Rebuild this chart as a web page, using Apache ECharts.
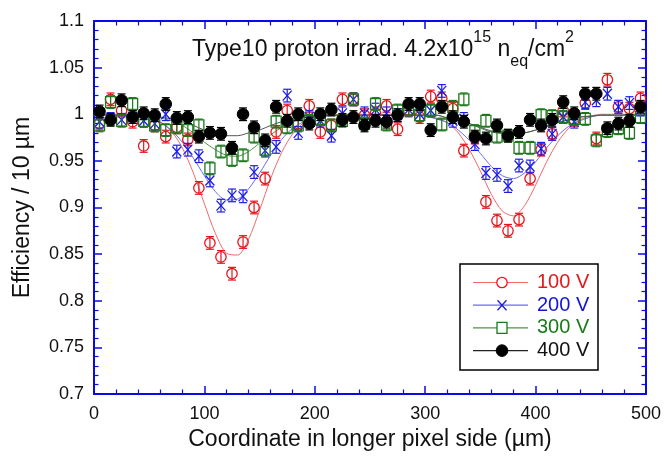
<!DOCTYPE html>
<html>
<head>
<meta charset="utf-8">
<title>Efficiency vs coordinate</title>
<script src="https://cdn.jsdelivr.net/npm/echarts/dist/echarts.min.js"></script>
<style>
  html, body { margin: 0; padding: 0; background: #fff; }
  #chart { width: 664px; height: 457px; }
</style>
</head>
<body>
<div id="chart"></div>
<script>
// measured points, one every 10 um
const xPos = [5, 15, 25, 35, 45, 55, 65, 75, 85, 95, 105, 115, 125, 135, 145, 155, 165, 175, 185, 195,
  205, 215, 225, 235, 245, 255, 265, 275, 285, 295, 305, 315, 325, 335, 345, 355, 365, 375, 385, 395,
  405, 415, 425, 435, 445, 455, 465, 475, 485, 495];

const eff100 = [0.990, 1.016, 1.004, 0.992, 0.966, 0.988, 0.976, 0.986, 0.973, 0.921,
  0.862, 0.847, 0.829, 0.863, 0.900, 0.931, 0.981, 1.004, 0.990, 1.009,
  0.981, 0.988, 1.016, 1.016, 0.999, 1.001, 1.009, 0.984, 1.004, 0.997,
  1.019, 1.017, 1.006, 0.961, 0.975, 0.906, 0.886, 0.875, 0.887, 0.931,
  0.962, 0.979, 1.004, 0.994, 1.012, 0.974, 1.037, 1.008, 1.006, 1.017];

const eff200 = [0.992, 0.995, 0.994, 0.997, 0.993, 0.990, 1.000, 0.960, 0.962, 0.955,
  0.929, 0.902, 0.913, 0.912, 0.938, 0.961, 0.965, 1.020, 0.980, 0.997,
  0.993, 0.977, 1.001, 1.016, 1.001, 1.005, 1.001, 0.999, 1.005, 1.000,
  1.004, 1.025, 0.993, 0.995, 0.968, 0.937, 0.935, 0.923, 0.945, 0.944,
  0.963, 0.979, 0.997, 0.992, 1.013, 1.015, 1.022, 1.008, 1.012, 1.005];

const eff300 = [0.988, 1.013, 0.993, 1.011, 0.993, 0.988, 0.983, 0.986, 0.983, 0.988,
  0.942, 0.960, 0.951, 0.956, 0.976, 0.962, 0.992, 0.986, 0.988, 0.993,
  0.995, 0.988, 0.993, 1.016, 0.990, 1.011, 0.989, 1.004, 1.005, 0.999,
  1.004, 0.989, 1.008, 1.016, 0.982, 0.993, 0.976, 0.977, 0.964, 0.964,
  0.999, 0.998, 0.997, 0.995, 0.995, 0.972, 0.982, 0.985, 0.980, 0.997];

const eff400 = [1.003, 0.994, 1.015, 0.997, 1.001, 0.999, 1.011, 0.996, 0.997, 0.976,
  0.980, 0.979, 0.964, 1.000, 0.986, 0.972, 1.008, 0.993, 1.000, 0.990,
  1.000, 1.005, 0.994, 0.997, 0.988, 0.993, 0.992, 0.999, 1.011, 1.011,
  0.983, 1.008, 0.997, 0.992, 0.976, 0.974, 0.988, 0.977, 0.981, 0.994,
  0.988, 0.994, 1.013, 1.001, 1.022, 1.022, 0.985, 0.990, 0.993, 1.008];

const errBar = 0.0068;

// fitted curves
const fitX = [0, 10, 20, 30, 40, 50, 60, 70, 80, 90, 100, 110, 120, 130, 140, 150, 160, 170, 180, 190,
  200, 210, 220, 230, 240, 250, 260, 270, 280, 290, 300, 310, 320, 330, 340, 350, 360, 370, 380, 390,
  400, 410, 420, 430, 440, 450, 460, 470, 480, 490, 500];

const fit100 = [1.000, 1.000, 1.000, 1.000, 0.999, 0.997, 0.992, 0.982, 0.964, 0.937,
  0.904, 0.872, 0.851, 0.849, 0.866, 0.897, 0.931, 0.959, 0.979, 0.991,
  0.997, 0.999, 1.000, 1.000, 1.000, 1.000, 1.000, 1.000, 1.000, 1.000,
  0.999, 0.996, 0.991, 0.980, 0.962, 0.939, 0.914, 0.896, 0.891, 0.902,
  0.924, 0.949, 0.970, 0.985, 0.994, 0.998, 1.000, 1.000, 1.000, 1.000, 1.000];

const fit200 = [0.999, 0.999, 0.999, 0.999, 0.998, 0.995, 0.991, 0.983, 0.970, 0.953,
  0.934, 0.917, 0.908, 0.909, 0.920, 0.937, 0.956, 0.973, 0.985, 0.992,
  0.996, 0.998, 0.999, 0.999, 0.999, 0.999, 0.999, 0.999, 0.999, 0.999,
  0.998, 0.995, 0.991, 0.983, 0.972, 0.958, 0.944, 0.934, 0.931, 0.937,
  0.949, 0.964, 0.977, 0.987, 0.993, 0.997, 0.999, 0.999, 0.999, 0.999, 0.999];

const fit300 = [0.999, 0.999, 0.999, 0.999, 0.999, 0.999, 0.996, 0.993, 0.988, 0.980,
  0.970, 0.962, 0.956, 0.955, 0.960, 0.969, 0.978, 0.986, 0.992, 0.996,
  0.998, 0.999, 0.999, 0.999, 0.999, 0.999, 0.999, 0.999, 0.999, 0.999,
  0.999, 0.999, 0.996, 0.993, 0.990, 0.985, 0.981, 0.979, 0.978, 0.980,
  0.983, 0.987, 0.991, 0.994, 0.997, 0.998, 0.999, 0.999, 0.999, 0.999, 0.999];

const fit400 = [0.999, 0.999, 0.999, 0.999, 0.999, 0.999, 0.997, 0.995, 0.992, 0.988,
  0.983, 0.980, 0.977, 0.977, 0.980, 0.983, 0.988, 0.992, 0.995, 0.997,
  0.998, 0.999, 0.999, 0.999, 0.999, 0.999, 0.999, 0.999, 0.999, 0.999,
  0.999, 0.999, 0.996, 0.993, 0.990, 0.986, 0.982, 0.980, 0.979, 0.980,
  0.983, 0.987, 0.991, 0.994, 0.997, 0.998, 0.999, 0.999, 0.999, 0.999, 0.999];

const seriesNames = ['100 V', '200 V', '300 V', '400 V'];

const FONT = '"Liberation Sans", Arial, Helvetica, sans-serif';
const AXIS_BLUE = '#0a0ae6';
const colors = { red: '#e8141c', blue: '#1c1ce6', green: '#1e781e', black: '#000000' };
const fitColors = { red: '#f06a6a', blue: '#6a6af0', green: '#4a944a', black: '#555555' };

function markerShapes(shape, color, cx, cy, z) {
  const zz = z || 0;
  if (shape === 'circle') {
    return [{ type: 'circle', z: zz, shape: { cx: cx, cy: cy, r: 5.2 }, style: { fill: 'none', stroke: color, lineWidth: 1.3 } }];
  }
  if (shape === 'dot') {
    return [{ type: 'circle', z: zz, shape: { cx: cx, cy: cy, r: 5.8 }, style: { fill: color, stroke: color, lineWidth: 1 } }];
  }
  if (shape === 'square') {
    return [{ type: 'rect', z: zz, shape: { x: cx - 5, y: cy - 5.5, width: 10, height: 11 }, style: { fill: 'none', stroke: color, lineWidth: 1.3 } }];
  }
  // cross
  return [
    { type: 'line', z: zz, shape: { x1: cx - 4.5, y1: cy - 5, x2: cx + 4.5, y2: cy + 5 }, style: { stroke: color, lineWidth: 1.3 } },
    { type: 'line', z: zz, shape: { x1: cx + 4.5, y1: cy - 5, x2: cx - 4.5, y2: cy + 5 }, style: { stroke: color, lineWidth: 1.3 } },
  ];
}

function errorRender(shape, color) {
  return function (params, api) {
    const x = api.value(0);
    const y = api.value(1);
    const p = api.coord([x, y]);
    const top = api.coord([x, y + errBar]);
    const bot = api.coord([x, y - errBar]);
    const cap = 4;
    const st = { stroke: color, lineWidth: 1.2 };
    const children = [
      { type: 'line', shape: { x1: p[0], y1: top[1], x2: p[0], y2: bot[1] }, style: st },
      { type: 'line', shape: { x1: p[0] - cap, y1: top[1], x2: p[0] + cap, y2: top[1] }, style: st },
      { type: 'line', shape: { x1: p[0] - cap, y1: bot[1], x2: p[0] + cap, y2: bot[1] }, style: st },
    ].concat(markerShapes(shape, color, p[0], p[1]));
    return { type: 'group', children: children };
  };
}

function pairs(xs, ys) {
  return xs.map((x, i) => [x, ys[i]]);
}

function fitLine(ys, color) {
  return {
    type: 'line',
    data: pairs(fitX, ys),
    smooth: 0.3,
    symbol: 'none',
    silent: true,
    lineStyle: { color: color, width: 1 },
    z: 1,
  };
}

function pointSeries(name, ys, shape, color, z) {
  return {
    name: name,
    type: 'custom',
    data: pairs(xPos, ys),
    encode: { x: 0, y: 1 },
    renderItem: errorRender(shape, color),
    z: z,
  };
}

const axisCommon = {
  axisLine: { show: true, onZero: false, lineStyle: { color: AXIS_BLUE, width: 2 } },
  axisTick: { show: true, inside: true, length: 8, lineStyle: { color: AXIS_BLUE, width: 1.5 } },
  minorTick: { show: true, splitNumber: 5, length: 4.5, lineStyle: { color: AXIS_BLUE, width: 1.2 } },
  splitLine: { show: false },
  minorSplitLine: { show: false },
};

const xBase = { type: 'value', min: 0, max: 500, interval: 100 };
const yBase = { type: 'value', min: 0.7, max: 1.1, interval: 0.05 };

// legend box, drawn by hand to show marker on a line
const legendX = 460, legendY = 264, rowGap = 22.7;
const legendItems = [
  { shape: 'circle', color: colors.red, line: fitColors.red, text: '#e41a1c' },
  { shape: 'cross', color: colors.blue, line: fitColors.blue, text: '#1414d8' },
  { shape: 'square', color: colors.green, line: fitColors.green, text: '#1a7a1a' },
  { shape: 'dot', color: colors.black, line: '#222', text: '#111111' },
];
const legendGraphics = [{
  type: 'rect', z: 100,
  shape: { x: legendX, y: legendY, width: 138, height: 106 },
  style: { fill: '#fff', stroke: '#000', lineWidth: 1.5 },
}];
legendItems.forEach((it, i) => {
  const cy = legendY + 18.5 + i * rowGap;
  legendGraphics.push({
    type: 'line', z: 101,
    shape: { x1: legendX + 13, y1: cy, x2: legendX + 68, y2: cy },
    style: { stroke: it.line, lineWidth: 1.2 },
  });
  markerShapes(it.shape, it.color, legendX + 42, cy, 102).forEach(m => {
    if (m.shape.r || m.shape.width) m.style.fill = m.style.fill === 'none' ? '#fff' : m.style.fill;
    legendGraphics.push(m);
  });
  legendGraphics.push({
    type: 'text', z: 102, x: legendX + 77, y: cy,
    style: { text: seriesNames[i], fill: it.text, font: '20px ' + FONT, verticalAlign: 'middle', align: 'left' },
  });
});

const chart = echarts.init(document.getElementById('chart'), null, { renderer: 'canvas' });
chart.setOption({
  animation: false,
  backgroundColor: '#fff',
  textStyle: { fontFamily: FONT },
  grid: { left: 94, right: 18, top: 21, bottom: 63, containLabel: false, outerBoundsMode: 'none' },
  xAxis: [
    Object.assign({}, xBase, axisCommon, {
      position: 'bottom',
      name: 'Coordinate in longer pixel side (µm)',
      nameLocation: 'middle',
      nameGap: 32,
      nameTextStyle: { color: '#111', fontSize: 23, fontFamily: FONT },
      axisLabel: { color: '#111', fontSize: 18, margin: 11, fontFamily: FONT },
    }),
    Object.assign({}, xBase, axisCommon, { position: 'top', axisLabel: { show: false } }),
  ],
  yAxis: [
    Object.assign({}, yBase, axisCommon, {
      position: 'left',
      name: 'Efficiency / 10 µm',
      nameLocation: 'middle',
      nameGap: 60,
      nameTextStyle: { color: '#111', fontSize: 23, fontFamily: FONT },
      axisLabel: {
        color: '#111', fontSize: 18, margin: 10, fontFamily: FONT,
        formatter: v => String(+v.toFixed(2)),
      },
    }),
    Object.assign({}, yBase, axisCommon, { position: 'right', axisLabel: { show: false } }),
  ],
  graphic: [{
    type: 'text', z: 50, x: 192, y: 30,
    style: {
      text: '{a|Type10 proton irrad. 4.2x10}{sup|15}{a| n}{sub|eq}{a|/cm}{sup|2}',
      font: '23px ' + FONT,
      fill: '#111',
      rich: {
        a: { fontSize: 23, fontFamily: FONT, lineHeight: 40, verticalAlign: 'middle' },
        sup: { fontSize: 16, fontFamily: FONT, verticalAlign: 'top', lineHeight: 20 },
        sub: { fontSize: 16, fontFamily: FONT, verticalAlign: 'bottom', lineHeight: 20 },
      },
    },
  }].concat(legendGraphics),
  series: [
    fitLine(fit100, fitColors.red),
    fitLine(fit200, fitColors.blue),
    fitLine(fit300, fitColors.green),
    fitLine(fit400, fitColors.black),
    pointSeries(seriesNames[0], eff100, 'circle', colors.red, 3),
    pointSeries(seriesNames[1], eff200, 'cross', colors.blue, 4),
    pointSeries(seriesNames[2], eff300, 'square', colors.green, 5),
    pointSeries(seriesNames[3], eff400, 'dot', colors.black, 6),
  ],
});
</script>
</body>
</html>
